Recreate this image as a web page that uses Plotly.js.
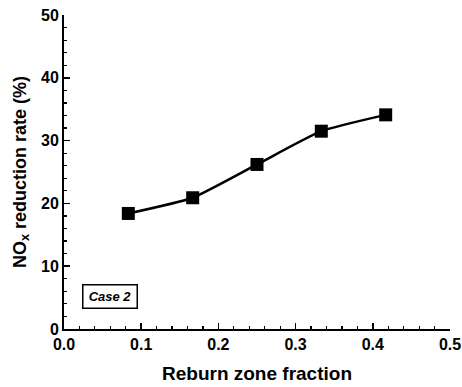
<!DOCTYPE html>
<html>
<head>
<meta charset="utf-8">
<script src="https://cdn.plot.ly/plotly-3.0.1.min.js"></script>
<style>html,body{margin:0;padding:0;background:#fff;}#chart{width:462px;height:387px;}</style>
</head>
<body>
<div id="chart"></div>
<script>
var reburnFraction = [0.0833, 0.1667, 0.25, 0.3333, 0.4167];
var noxReduction = [18.4, 20.9, 26.2, 31.5, 34.1];
var xTickVals = [0.0, 0.1, 0.2, 0.3, 0.4, 0.5];
var xTickText = ['0.0', '0.1', '0.2', '0.3', '0.4', '0.5'];
var yTickVals = [0, 10, 20, 30, 40, 50];
var yTickText = ['0', '10', '20', '30', '40', '50'];

var font = 'Liberation Sans, Arial, sans-serif';

var trace = {
  x: reburnFraction,
  y: noxReduction,
  type: 'scatter',
  mode: 'lines+markers',
  line: {color: '#000', width: 2.5, shape: 'spline', smoothing: 0.5},
  marker: {symbol: 'square', size: 13, color: '#000'},
  showlegend: false,
  hoverinfo: 'x+y'
};

var layout = {
  width: 462,
  height: 387,
  margin: {l: 64, r: 12, t: 15, b: 58},
  paper_bgcolor: '#fff',
  plot_bgcolor: '#fff',
  font: {family: font, color: '#000'},
  xaxis: {
    range: [0, 0.5],
    tickvals: xTickVals,
    ticktext: xTickText,
    ticks: 'inside',
    ticklen: 6,
    tickwidth: 1.5,
    tickcolor: '#000',
    minor: {dtick: 0.02, ticks: 'inside', ticklen: 3, tickwidth: 1.2, tickcolor: '#000', showgrid: false},
    showline: true,
    linecolor: '#000',
    linewidth: 2,
    showgrid: false,
    zeroline: false,
    tickfont: {family: font, size: 16, color: '#000', weight: 'bold'},
    title: {text: '<b>Reburn zone fraction</b>', font: {family: font, size: 19, color: '#000'}, standoff: 14}
  },
  yaxis: {
    range: [0, 50],
    tickvals: yTickVals,
    ticktext: yTickText,
    ticks: 'inside',
    ticklen: 6,
    tickwidth: 1.5,
    tickcolor: '#000',
    minor: {dtick: 2, ticks: 'inside', ticklen: 3, tickwidth: 1.2, tickcolor: '#000', showgrid: false},
    showline: true,
    linecolor: '#000',
    linewidth: 2,
    showgrid: false,
    zeroline: false,
    tickfont: {family: font, size: 16, color: '#000', weight: 'bold'},
    title: {text: '<b>NO<sub>x</sub> reduction rate (%)</b>', font: {family: font, size: 18, color: '#000'}, standoff: 10}
  },
  annotations: [{
    x: 0.06, y: 5.1, xref: 'x', yref: 'y',
    text: '<b><i>Case 2</i></b>',
    showarrow: false,
    font: {family: font, size: 13, color: '#000'},
    bordercolor: '#000', borderwidth: 1.5, borderpad: 3,
    bgcolor: '#fff',
    width: 47, height: 16
  }]
};

Plotly.newPlot('chart', [trace], layout, {staticPlot: true, displayModeBar: false});
</script>
</body>
</html>
